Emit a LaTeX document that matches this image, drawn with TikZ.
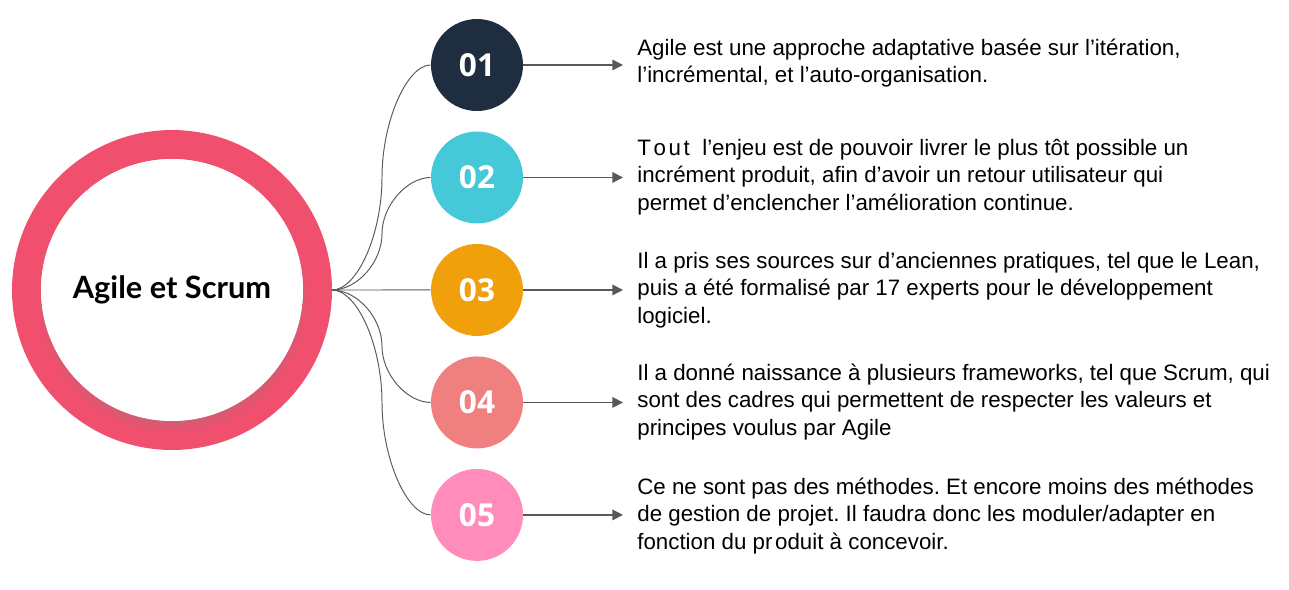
\documentclass[tikz,border=0pt]{standalone}
\usepackage{fontspec}
\setmainfont{Liberation Sans}
\newfontfamily\numfont{Open Sans}
\newfontfamily\titlefont{Lato}
\usepackage{xcolor}
\usetikzlibrary{positioning, arrows.meta, shadows}
\definecolor{ringred}{HTML}{F0506E}
\definecolor{navy}{HTML}{1E2D40}
\definecolor{aqua}{HTML}{45C8D8}
\definecolor{amber}{HTML}{F0A00A}
\definecolor{salmon}{HTML}{F08080}
\definecolor{rose}{HTML}{FF8CBA}
\definecolor{linkgray}{HTML}{595959}
\frenchspacing

\begin{document}
\begin{tikzpicture}[x=0.02cm, y=-0.02cm, node distance=2.25cm, on grid,
    num/.style={circle, minimum size=1.84cm, inner sep=0pt, text=white,
        font=\numfont\bfseries\fontsize{18}{18}\selectfont},
    desc/.style={anchor=west, inner sep=0pt, align=left,
        font=\fontsize{12.7}{15.65}\selectfont},
    link/.style={draw=linkgray, line width=0.55pt},
    arr/.style={-{Triangle[length=6pt,width=6pt]}, draw=linkgray,
        line width=0.75pt, shorten >=0.28cm}]
    \useasboundingbox (0,0) rectangle (1289,589);
    % hub circle
    \node (agile) [circle, draw=ringred, line width=0.58cm, minimum size=5.82cm,
        inner sep=0pt] at (172,290) {};
    \node (core) [circle, fill=white, minimum size=5.24cm, inner sep=0pt,
        circular drop shadow={shadow xshift=0pt, shadow yshift=-4pt,
        shadow scale=1.04, opacity=0.4},
        font=\titlefont\bfseries\fontsize{17.5}{17.5}\selectfont]
        at (agile) {Agile et Scrum};
    % numbered steps
    \node (n1) [num, fill=navy] at (477,65) {01};
    \node (n2) [num, fill=aqua, below=of n1] {02};
    \node (n3) [num, fill=amber, below=of n2] {03};
    \node (n4) [num, fill=salmon, below=of n3] {04};
    \node (n5) [num, fill=rose, below=of n4] {05};
    % texts
    \node (t1) [desc] at (637,63) {Agile est une approche adaptative basée sur l’itération,\\
        l’incrémental, et l’auto-organisation.};
    \node (t2) [desc] at (637,177) {T\kern1.5pt o\kern1.5pt u\kern1.5pt t\ \ l’enjeu est de pouvoir livrer le plus tôt possible un\\
        incrément produit, afin d’avoir un retour utilisateur qui\\
        permet d’enclencher l’amélioration continue.};
    \node (t3) [desc] at (637,290) {Il a pris ses sources sur d’anciennes pratiques, tel que le Lean,\\
        puis a été formalisé par 17 experts pour le développement\\
        logiciel.};
    \node (t4) [desc] at (637,402) {Il a donné naissance à plusieurs frameworks, tel que Scrum, qui\\
        sont des cadres qui permettent de respecter les valeurs et\\
        principes voulus par Agile};
    \node (t5) [desc] at (637,516) {Ce ne sont pas des méthodes. Et encore moins des méthodes\\
        de gestion de projet. Il faudra donc les moduler/adapter en\\
        fonction du pr\kern1.5pt oduit à concevoir.};
    % connectors
    \draw[link] (agile.east) .. controls (357.5,290) and (382,233.75) .. (382,177.5)
        .. controls (382,121.25) and (407,65) .. (n1.west);
    \draw[link] (agile.east) .. controls (357.5,290) and (382,261.9) .. (382,233.75)
        .. controls (382,205.6) and (407,177.5) .. (n2.west);
    \draw[link] (agile.east) -- (n3.west);
    \draw[link] (agile.east) .. controls (357.5,290) and (382,318.1) .. (382,346.25)
        .. controls (382,374.4) and (407,402.5) .. (n4.west);
    \draw[link] (agile.east) .. controls (357.5,290) and (382,346.25) .. (382,402.5)
        .. controls (382,458.75) and (407,515) .. (n5.west);
    \draw[arr] (n1.east) -- (n1.east -| t1.west);
    \draw[arr] (n2.east) -- (n2.east -| t2.west);
    \draw[arr] (n3.east) -- (n3.east -| t3.west);
    \draw[arr] (n4.east) -- (n4.east -| t4.west);
    \draw[arr] (n5.east) -- (n5.east -| t5.west);
\end{tikzpicture}
\end{document}
